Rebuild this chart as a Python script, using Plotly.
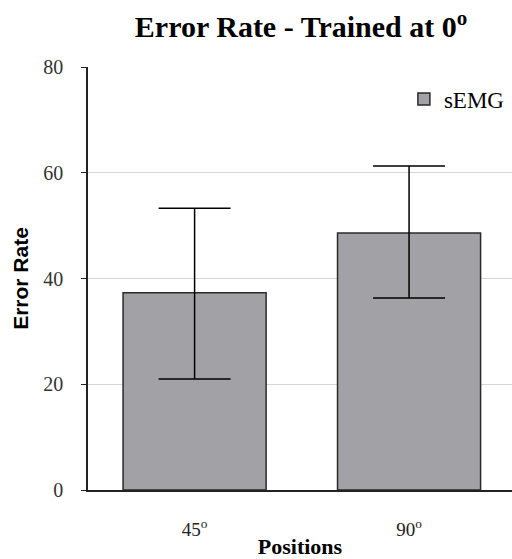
import plotly.graph_objects as go

positions = ["45<sup>o</sup>", "90<sup>o</sup>"]
error_rate = [37.3, 48.6]
err_upper = [53.3, 61.3]
err_lower = [21.0, 36.3]
y_ticks = [0, 20, 40, 60, 80]

plus = [u - v for u, v in zip(err_upper, error_rate)]
minus = [v - l for v, l in zip(error_rate, err_lower)]

fig = go.Figure()
fig.add_trace(go.Bar(
    x=[0, 1], y=error_rate, name="sEMG", width=0.667,
    marker=dict(color="#a2a1a6", line=dict(color="#2a2a2a", width=1.5)),
    error_y=dict(type="data", symmetric=False, array=plus, arrayminus=minus,
                 color="black", thickness=1.5, width=36),
))

serif = "Liberation Serif, Times New Roman, serif"
fig.update_layout(
    width=512, height=559,
    margin=dict(l=88, r=0, t=67, b=69),
    plot_bgcolor="white", paper_bgcolor="white",
    title=dict(text="<b>Error Rate - Trained at 0<sup>o</sup></b>", x=0.588, xanchor="center",
               y=0.952, yanchor="middle",
               font=dict(family=serif, size=30, color="black")),
    xaxis=dict(range=[-0.497, 1.48], tickvals=[0, 1], ticktext=positions, automargin=False,
               showline=True, linecolor="#222", linewidth=1.5, ticks="", showgrid=False,
               tickfont=dict(family=serif, size=19, color="#222"),
               ticklabelstandoff=21,
               title=dict(text="<b>Positions</b>", font=dict(family=serif, size=22, color="black"),
                          standoff=10)),
    yaxis=dict(range=[0, 80], tickvals=y_ticks, showline=True, linecolor="#222", linewidth=1.5,
               automargin=False,
               ticks="outside", ticklen=5, tickcolor="#222", showgrid=True, gridcolor="#d6d6d6",
               gridwidth=1, zeroline=False,
               tickfont=dict(family=serif, size=20, color="#333"),
               ticklabelstandoff=14,
               title=dict(text="<b>Error Rate</b>",
                          font=dict(family="Liberation Sans, Arial, sans-serif", size=21, color="black"),
                          standoff=9)),
    showlegend=True,
    legend=dict(x=0.995, y=0.975, xanchor="right", yanchor="top", bgcolor="rgba(0,0,0,0)",
                font=dict(family=serif, size=23, color="black")),
    bargap=0.33,
)
fig.write_html("out.html")
